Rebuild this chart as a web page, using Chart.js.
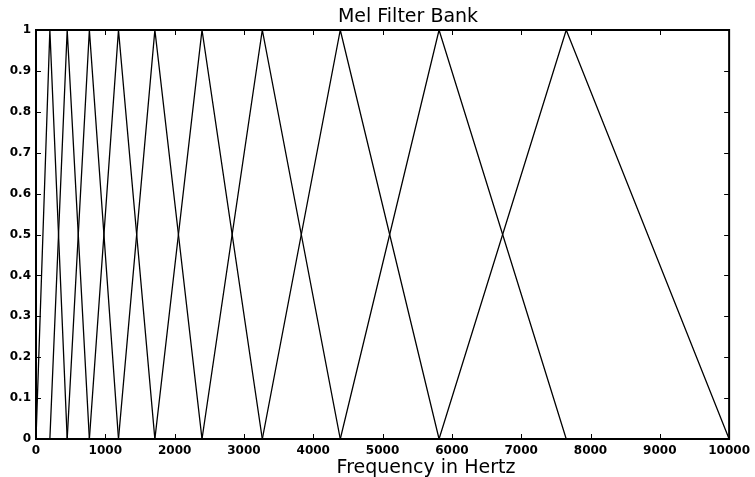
<!DOCTYPE html>
<html>
<head>
<meta charset="utf-8">
<title>Mel Filter Bank</title>
<script src="https://cdn.jsdelivr.net/npm/chart.js@4/dist/chart.umd.min.js"></script>
<style>
  body { margin: 0; background: #fff; }
  canvas { display: block; }
</style>
</head>
<body>
<canvas id="mel" width="755" height="477"></canvas>
<script>
// triangle filters (Hz)
const lowerHz  = [0, 200, 450, 770, 1190, 1715, 2395, 3265, 4390, 5815];
const centerHz = [200, 450, 770, 1190, 1715, 2395, 3265, 4390, 5815, 7650];
const upperHz  = [450, 770, 1190, 1715, 2395, 3265, 4390, 5815, 7650, 10000];
const peakGain = [1, 1, 1, 1, 1, 1, 1, 1, 1, 1];

const xTicks = [0, 1000, 2000, 3000, 4000, 5000, 6000, 7000, 8000, 9000, 10000];
const yTicks = [0, 0.1, 0.2, 0.3, 0.4, 0.5, 0.6, 0.7, 0.8, 0.9, 1];

const titleText = "Mel Filter Bank";
const xTitleText = "Frequency in Hertz";

let datasets = [];
for (let i = 0; i < centerHz.length; i++) {
  datasets.push({
    label: "filter " + (i + 1),
    data: [
      { x: lowerHz[i], y: 0 },
      { x: centerHz[i], y: peakGain[i] },
      { x: upperHz[i], y: 0 }
    ],
    borderColor: "#000",
    borderWidth: 1.3,
    pointRadius: 0,
    showLine: true,
    fill: false,
    tension: 0
  });
}

// box + inward ticks on all four sides, and the two titles
const matlabFrame = {
  id: "matlabFrame",
  afterDatasetsDraw(chart) {
    const ctx = chart.ctx;
    const a = chart.chartArea;
    const xs = chart.scales.x;
    const ys = chart.scales.y;
    ctx.save();
    ctx.strokeStyle = "#000";
    ctx.lineWidth = 1;
    ctx.beginPath();
    for (let v of xTicks) {
      let px = Math.round(xs.getPixelForValue(v)) + 0.5;
      ctx.moveTo(px, a.bottom); ctx.lineTo(px, a.bottom - 5);
      ctx.moveTo(px, a.top); ctx.lineTo(px, a.top + 5);
    }
    for (let v of yTicks) {
      let py = Math.round(ys.getPixelForValue(v)) + 0.5;
      ctx.moveTo(a.left, py); ctx.lineTo(a.left + 5, py);
      ctx.moveTo(a.right, py); ctx.lineTo(a.right - 5, py);
    }
    ctx.stroke();
    ctx.lineWidth = 2;
    ctx.strokeRect(a.left, a.top, a.right - a.left, a.bottom - a.top);

    ctx.fillStyle = "#000";
    ctx.textAlign = "center";
    ctx.textBaseline = "alphabetic";
    ctx.font = '19px "DejaVu Sans"';
    ctx.fillText(titleText, a.left + 372, 22);
    ctx.font = '19px "DejaVu Sans"';
    ctx.fillText(xTitleText, a.left + 390, 473);
    ctx.restore();
  }
};

new Chart(document.getElementById("mel").getContext("2d"), {
  type: "scatter",
  data: { datasets: datasets },
  options: {
    responsive: false,
    animation: false,
    layout: { padding: { top: 30, right: 25, left: 0, bottom: 0 } },
    plugins: {
      legend: { display: false },
      tooltip: { enabled: false },
      title: { display: false }
    },
    scales: {
      x: {
        type: "linear",
        min: 0,
        max: 10000,
        afterBuildTicks: (s) => { s.ticks = xTicks.map(v => ({ value: v })); },
        afterFit: (s) => { s.height = 38; },
        grid: { display: false, drawTicks: false },
        border: { display: false },
        ticks: {
          color: "#000",
          padding: 5,
          maxRotation: 0,
          font: { family: "DejaVu Sans", size: 12, weight: "bold" },
          callback: (v) => String(v)
        }
      },
      y: {
        type: "linear",
        min: 0,
        max: 1,
        afterBuildTicks: (s) => { s.ticks = yTicks.map(v => ({ value: v })); },
        afterFit: (s) => { s.width = 36; },
        grid: { display: false, drawTicks: false },
        border: { display: false },
        ticks: {
          color: "#000",
          padding: 5,
          font: { family: "DejaVu Sans", size: 12, weight: "bold" },
          callback: (v) => String(v)
        }
      }
    }
  },
  plugins: [matlabFrame]
});
</script>
</body>
</html>
